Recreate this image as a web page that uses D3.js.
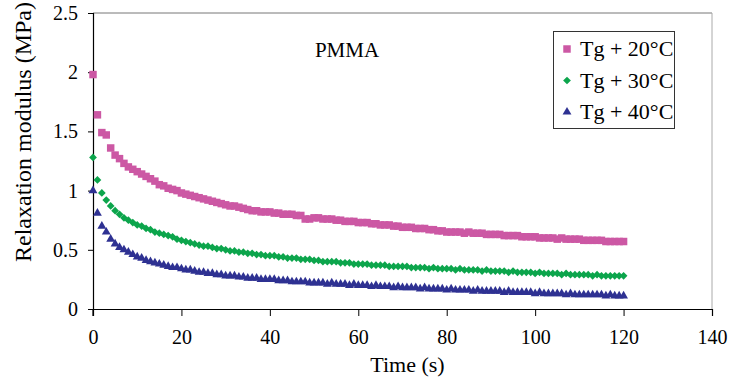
<!DOCTYPE html>
<html>
<head>
<meta charset="utf-8">
<script src="https://cdn.jsdelivr.net/npm/d3@7"></script>
<style>
  body { margin: 0; background: #fff; }
  svg { display: block; }
  text { font-family: "Liberation Serif", "Times New Roman", serif; fill: #000; }
</style>
</head>
<body>
<svg></svg>
<script>
let width = 729, height = 380;

// time in seconds, one reading per second
let times = d3.range(0, 121);

let tg20 = [
  1.98, 1.64, 1.49, 1.47, 1.36, 1.30, 1.27, 1.23, 1.20, 1.18, 1.16,
  1.14, 1.12, 1.10, 1.08, 1.05, 1.04, 1.02, 1.01, 1.00, 0.98,
  0.97, 0.96, 0.95, 0.94, 0.93, 0.92, 0.91, 0.90, 0.89, 0.88,
  0.87, 0.87, 0.86, 0.85, 0.84, 0.83, 0.83, 0.82, 0.82, 0.82,
  0.81, 0.81, 0.80, 0.80, 0.80, 0.79, 0.79, 0.76, 0.76, 0.77,
  0.77, 0.76, 0.76, 0.76, 0.75, 0.75, 0.74, 0.74, 0.74, 0.73,
  0.73, 0.73, 0.72, 0.72, 0.71, 0.71, 0.71, 0.70, 0.70, 0.69,
  0.69, 0.69, 0.68, 0.68, 0.68, 0.67, 0.67, 0.66, 0.66, 0.65,
  0.65, 0.65, 0.65, 0.64, 0.65, 0.64, 0.64, 0.64, 0.63, 0.63,
  0.63, 0.63, 0.62, 0.62, 0.62, 0.62, 0.61, 0.61, 0.61, 0.61,
  0.60, 0.60, 0.60, 0.60, 0.59, 0.60, 0.59, 0.59, 0.59, 0.59,
  0.58, 0.58, 0.58, 0.58, 0.58, 0.57, 0.57, 0.57, 0.57, 0.57
];

let tg30 = [
  1.28, 1.09, 0.98, 0.92, 0.87, 0.83, 0.80, 0.77, 0.75, 0.73, 0.71,
  0.70, 0.68, 0.67, 0.65, 0.64, 0.63, 0.62, 0.61, 0.59, 0.58,
  0.57, 0.56, 0.55, 0.54, 0.53, 0.53, 0.52, 0.51, 0.51, 0.50,
  0.49, 0.49, 0.48, 0.48, 0.47, 0.47, 0.46, 0.46, 0.45, 0.45,
  0.45, 0.44, 0.44, 0.43, 0.43, 0.43, 0.42, 0.42, 0.42, 0.41,
  0.41, 0.40, 0.40, 0.40, 0.40, 0.39, 0.39, 0.39, 0.38, 0.38,
  0.38, 0.38, 0.37, 0.37, 0.37, 0.37, 0.36, 0.36, 0.36, 0.36,
  0.36, 0.35, 0.35, 0.35, 0.35, 0.34, 0.35, 0.34, 0.34, 0.34,
  0.34, 0.33, 0.34, 0.33, 0.33, 0.33, 0.33, 0.32, 0.33, 0.32,
  0.32, 0.32, 0.32, 0.31, 0.32, 0.31, 0.31, 0.31, 0.31, 0.30,
  0.31, 0.30, 0.30, 0.30, 0.30, 0.29, 0.30, 0.29, 0.29, 0.29,
  0.29, 0.29, 0.28, 0.29, 0.28, 0.28, 0.28, 0.28, 0.28, 0.28
];

let tg40 = [
  1.00, 0.81, 0.70, 0.65, 0.59, 0.55, 0.52, 0.50, 0.48, 0.46, 0.44,
  0.43, 0.41, 0.40, 0.39, 0.38, 0.37, 0.36, 0.35, 0.35, 0.34,
  0.33, 0.33, 0.32, 0.31, 0.31, 0.30, 0.30, 0.29, 0.29, 0.28,
  0.28, 0.28, 0.27, 0.27, 0.26, 0.26, 0.26, 0.25, 0.25, 0.25,
  0.25, 0.24, 0.24, 0.24, 0.23, 0.23, 0.23, 0.23, 0.22, 0.22,
  0.22, 0.22, 0.21, 0.22, 0.21, 0.21, 0.21, 0.20, 0.21, 0.20,
  0.20, 0.20, 0.19, 0.20, 0.19, 0.19, 0.19, 0.18, 0.19, 0.18,
  0.18, 0.18, 0.18, 0.17, 0.18, 0.17, 0.17, 0.17, 0.17, 0.16,
  0.17, 0.16, 0.16, 0.16, 0.16, 0.15, 0.16, 0.15, 0.15, 0.15,
  0.15, 0.15, 0.14, 0.15, 0.14, 0.14, 0.14, 0.14, 0.14, 0.13,
  0.14, 0.13, 0.13, 0.13, 0.13, 0.13, 0.12, 0.13, 0.12, 0.12,
  0.12, 0.12, 0.12, 0.12, 0.12, 0.11, 0.12, 0.11, 0.11, 0.11
];

let seriesNames = ["Tg + 20°C", "Tg + 30°C", "Tg + 40°C"];
let seriesColors = ["#cc58a4", "#0ca54c", "#2e3192"];
let xTicks = [0, 20, 40, 60, 80, 100, 120, 140];
let yTicks = [0, 0.5, 1, 1.5, 2, 2.5];

let series = [tg20, tg30, tg40];

let svg = d3.select("svg")
    .attr("width", width)
    .attr("height", height);

let margin = { left: 93, right: 17, top: 13, bottom: 71 };

let x = d3.scaleLinear().domain([0, 140]).range([margin.left, width - margin.right]);
let y = d3.scaleLinear().domain([0, 2.5]).range([height - margin.bottom, margin.top]);

// top and right frame lines
svg.append("line")
    .attr("x1", x(0)).attr("x2", x(140))
    .attr("y1", y(2.5)).attr("y2", y(2.5))
    .attr("stroke", "#777").attr("stroke-width", 1);
svg.append("line")
    .attr("x1", x(140)).attr("x2", x(140))
    .attr("y1", y(2.5)).attr("y2", y(0))
    .attr("stroke", "#aaa").attr("stroke-width", 1);

let xAxis = svg.append("g")
    .attr("transform", "translate(0," + y(0) + ")")
    .call(d3.axisBottom(x).tickValues(xTicks).tickSize(7).tickPadding(14).tickFormat(d3.format("d")));

let yAxis = svg.append("g")
    .attr("transform", "translate(" + x(0) + ",0)")
    .call(d3.axisLeft(y).tickValues(yTicks).tickSize(5).tickPadding(10).tickFormat(d => d));

[xAxis, yAxis].forEach(g => {
    g.select(".domain").attr("stroke", "#000").attr("stroke-width", 1.2);
    g.selectAll(".tick line").attr("stroke", "#000");
    g.selectAll(".tick text")
        .style("font-family", "'Liberation Serif', 'Times New Roman', serif")
        .style("font-size", "20px")
        .attr("fill", "#000");
});
// extend y axis a little below the x axis like the original
yAxis.append("line")
    .attr("x1", 0).attr("x2", 0)
    .attr("y1", y(0)).attr("y2", y(0) + 7)
    .attr("stroke", "#000").attr("stroke-width", 1.2);

// axis titles
svg.append("text")
    .attr("x", x(70) + 5)
    .attr("y", 372)
    .attr("text-anchor", "middle")
    .style("font-size", "22px")
    .text("Time (s)");

svg.append("text")
    .attr("transform", "translate(31," + 132 + ") rotate(-90)")
    .attr("text-anchor", "middle")
    .style("font-size", "24px")
    .text("Relaxation modulus (MPa)");

svg.append("text")
    .attr("x", 347)
    .attr("y", 57)
    .attr("text-anchor", "middle")
    .style("font-size", "21px")
    .text("PMMA");

// markers
let symbols = [
    d3.symbol().type(d3.symbolSquare).size(56),
    d3.symbol().type(d3.symbolSquare).size(30),
    d3.symbol().type(d3.symbolTriangle).size(34)
];
let rotations = [0, 45, 0];

series.forEach((vals, s) => {
    svg.append("g")
        .selectAll("path")
        .data(vals)
        .enter()
        .append("path")
        .attr("d", symbols[s])
        .attr("transform", (d, i) => "translate(" + x(times[i]) + "," + y(d) + ") rotate(" + rotations[s] + ")")
        .attr("fill", seriesColors[s]);
});

// legend
let legend = svg.append("g");
legend.append("rect")
    .attr("x", 553.5).attr("y", 31.5)
    .attr("width", 121).attr("height", 97)
    .attr("fill", "#fff")
    .attr("stroke", "#333").attr("stroke-width", 1);

seriesNames.forEach((name, s) => {
    let cy = 49 + s * 31.5;
    legend.append("path")
        .attr("d", symbols[s])
        .attr("transform", "translate(567," + cy + ") rotate(" + rotations[s] + ")")
        .attr("fill", seriesColors[s]);
    legend.append("text")
        .attr("x", 580)
        .attr("y", cy + 7)
        .style("font-size", "22px")
        .text(name);
});
</script>
</body>
</html>
